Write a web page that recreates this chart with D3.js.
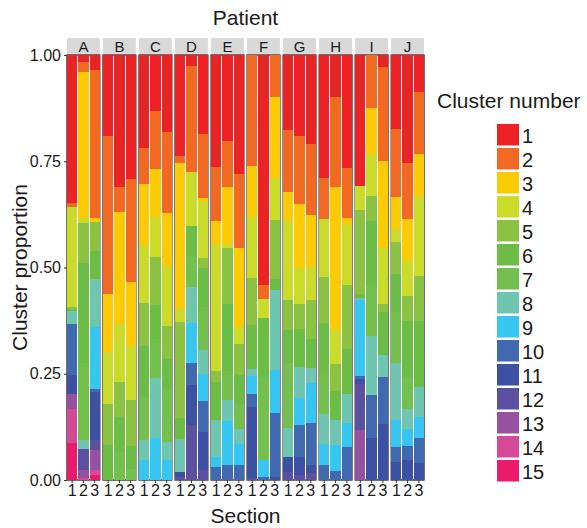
<!DOCTYPE html>
<html><head><meta charset="utf-8">
<script src="https://cdn.jsdelivr.net/npm/d3@7"></script>
<style>body{margin:0;background:#fff}svg{display:block;font-family:"Liberation Sans",Arial,Helvetica,sans-serif}</style>
</head><body><svg id="chart" width="587" height="528"></svg>
<script>
const patients = ["A","B","C","D","E","F","G","H","I","J"];
const sections = ["1","2","3"];
const clusters = ["1","2","3","4","5","6","7","8","9","10","11","12","13","14","15"];
const clusterColors = ["#ed2224","#f26a22","#fdcb06","#cbdb2a","#8bc242","#6cbd45","#74c04f","#6fc6b0","#37c5f1","#4169b0","#3c51a3","#5b51a0","#9652a0","#d54a98","#ec1a6b"];
const yTicks = [0, 0.25, 0.5, 0.75, 1];

// proportions per section, clusters 1..15
const patientA = [
  [0.349,0.008,0,0.236,0.004,0.004,0,0.031,0,0.121,0.043,0,0.035,0.082,0.086],
  [0.016,0.023,0.344,0.012,0.094,0.245,0.172,0.020,0,0,0,0.051,0.018,0.005,0],
  [0.036,0.347,0.010,0,0.067,0.067,0,0.113,0.145,0.008,0.113,0.023,0.047,0.012,0.012]
];
const patientB = [
  [0.190,0.372,0.137,0.121,0.098,0.082,0,0,0,0,0,0,0,0,0],
  [0.311,0.059,0.262,0.137,0.082,0.082,0.067,0,0,0,0,0,0,0,0],
  [0.292,0.243,0.151,0.127,0.108,0.055,0.025,0,0,0,0,0,0,0,0]
];
const patientC = [
  [0.218,0.085,0.145,0.135,0.102,0.120,0.102,0.047,0.047,0,0,0,0,0,0],
  [0.131,0.137,0.113,0.094,0.113,0.090,0.082,0.141,0.098,0,0,0,0,0,0],
  [0.182,0.190,0.123,0.143,0.076,0.070,0.125,0.043,0.047,0,0,0,0,0,0]
];
const patientD = [
  [0.237,0.016,0.344,0.031,0.227,0.049,0,0.076,0,0,0.012,0.008,0,0,0],
  [0.026,0.250,0,0.125,0,0.074,0.070,0.086,0.094,0.051,0.094,0.129,0,0,0],
  [0.185,0.152,0.009,0.131,0.025,0.100,0.092,0.056,0.063,0.074,0.090,0.023,0,0,0]
];
const patientE = [
  [0.263,0.127,0.055,0.297,0.027,0.090,0,0.086,0.023,0.031,0,0,0,0,0],
  [0.202,0.108,0.135,0.009,0.131,0.168,0.059,0.049,0.104,0.035,0,0,0,0,0],
  [0.282,0.174,0.185,0.041,0.074,0.067,0.059,0.035,0.051,0.035,0,0,0,0,0]
];
const patientF = [
  [0,0.261,0.120,0.144,0.112,0.102,0,0.016,0.043,0.031,0.168,0.004,0,0,0],
  [0.542,0.031,0,0.045,0,0.139,0.197,0,0.038,0.008,0,0,0,0,0],
  [0,0.100,0.189,0.099,0.139,0.027,0,0.188,0.102,0.149,0.008,0,0,0,0]
];
const patientG = [
  [0.177,0.146,0.067,0.188,0.070,0.078,0.153,0.067,0,0,0.035,0.020,0,0,0],
  [0.190,0.162,0.149,0.085,0.059,0.090,0,0.074,0.063,0.074,0.043,0.012,0,0,0],
  [0.210,0.168,0.121,0.077,0.092,0.070,0,0.035,0.094,0.098,0.020,0.016,0,0,0]
];
const patientH = [
  [0.288,0.098,0,0.137,0.106,0.121,0.095,0.070,0.049,0.035,0,0,0,0,0],
  [0.099,0.211,0.336,0.081,0.063,0.069,0,0.059,0.060,0.022,0,0,0,0,0],
  [0.266,0.117,0.016,0.141,0.151,0.107,0,0.069,0.056,0.077,0,0,0,0,0]
];
const patientI = [
  [0.308,0,0,0.056,0.200,0.008,0,0.005,0.178,0.008,0.013,0.108,0.117,0,0],
  [0,0.124,0.110,0.098,0.059,0.153,0.120,0.139,0,0.102,0.098,0,0,0,0],
  [0.028,0.221,0.205,0.133,0.018,0.102,0,0.051,0,0.110,0.133,0,0,0,0]
];
const patientJ = [
  [0.174,0.159,0.076,0.031,0.074,0.090,0.121,0.133,0.063,0.035,0.043,0,0,0,0],
  [0.255,0.131,0.098,0.082,0.059,0.133,0.074,0.047,0.041,0.033,0.047,0,0,0,0],
  [0.088,0.145,0.102,0.184,0.106,0.156,0,0.070,0.051,0.059,0.039,0,0,0,0]
];
const patientValues = [patientA,patientB,patientC,patientD,patientE,patientF,patientG,patientH,patientI,patientJ];

const svg = d3.select("#chart");
const plotTop = 55, plotBottom = 480, plotLeft = 67, plotRight = 424;
const textColor = "#1a1a1a";

const fx = d3.scaleBand().domain(patients).range([plotLeft, plotRight]).paddingInner(0.09).paddingOuter(0);
const xs = d3.scaleBand().domain(sections).range([0, fx.bandwidth()]).paddingInner(0.09).paddingOuter(0.0);
const y = d3.scaleLinear().domain([0, 1]).range([plotBottom, plotTop]);
const color = d3.scaleOrdinal().domain(clusters).range(clusterColors);

const rows = [];
patients.forEach((p, pi) => {
  sections.forEach((s, si) => {
    const row = {patient: p, section: s};
    clusters.forEach((c, ci) => row[c] = patientValues[pi][si][ci]);
    rows.push(row);
  });
});
const stack = d3.stack().keys(clusters.slice().reverse()).offset(d3.stackOffsetExpand);
const series = stack(rows);

svg.append("text").attr("x", (plotLeft + plotRight) / 2).attr("y", 25).attr("text-anchor", "middle")
  .attr("font-size", 21).attr("fill", textColor).text("Patient");

const panels = svg.selectAll("g.panel").data(patients).join("g").attr("class", "panel")
  .attr("transform", d => `translate(${fx(d)},0)`);

panels.append("rect").attr("x", 0).attr("y", 38).attr("width", fx.bandwidth()).attr("height", 16).attr("fill", "#d9d9d9");
panels.append("text").attr("x", fx.bandwidth() / 2).attr("y", 51.5).attr("text-anchor", "middle")
  .attr("font-size", 15).attr("fill", textColor).text(d => d);

const segs = [];
series.forEach(ser => {
  ser.forEach(d => {
    if (d[1] - d[0] > 0) segs.push({key: ser.key, y0: d[0], y1: d[1], patient: d.data.patient, section: d.data.section});
  });
});
svg.append("g").selectAll("rect").data(segs).join("rect")
  .attr("x", d => fx(d.patient) + xs(d.section))
  .attr("width", xs.bandwidth())
  .attr("y", d => y(d.y1))
  .attr("height", d => y(d.y0) - y(d.y1))
  .attr("fill", d => color(d.key))
  .attr("shape-rendering", "crispEdges");

panels.append("rect").attr("x", 0).attr("y", plotTop).attr("width", fx.bandwidth()).attr("height", plotBottom - plotTop)
  .attr("fill", "none").attr("stroke", "#111").attr("stroke-width", 1.2);

panels.each(function() {
  const g = d3.select(this).append("g").attr("transform", `translate(0,${plotBottom})`);
  g.call(d3.axisBottom(xs).tickSize(3).tickPadding(2));
  g.select(".domain").remove();
  g.selectAll(".tick line").attr("stroke", "#333");
  g.selectAll(".tick text").attr("font-size", 16).attr("fill", textColor).attr("font-family", null);
});

const gy = svg.append("g").attr("transform", `translate(${plotLeft},0)`);
gy.call(d3.axisLeft(y).tickValues(yTicks).tickFormat(d3.format(".2f")).tickSize(3).tickPadding(3));
gy.select(".domain").remove();
gy.selectAll(".tick line").attr("stroke", "#333");
gy.selectAll(".tick text").attr("font-size", 16).attr("fill", textColor).attr("font-family", null);

svg.append("text").attr("x", (plotLeft + plotRight) / 2).attr("y", 523).attr("text-anchor", "middle")
  .attr("font-size", 21).attr("fill", textColor).text("Section");
svg.append("text").attr("transform", `translate(27,${(plotTop + plotBottom) / 2}) rotate(-90)`).attr("text-anchor", "middle")
  .attr("font-size", 21).attr("fill", textColor).text("Cluster proportion");

const lg = svg.append("g");
lg.append("text").attr("x", 437).attr("y", 108).attr("font-size", 21).attr("fill", textColor).text("Cluster number");
const items = lg.selectAll("g.item").data(clusters).join("g").attr("class", "item")
  .attr("transform", (d, i) => `translate(497,${124 + i * 24})`);
items.append("rect").attr("width", 22).attr("height", 21.5).attr("fill", d => color(d));
items.append("text").attr("x", 25).attr("y", 18.5).attr("font-size", 20).attr("fill", textColor).text(d => d);
</script></body></html>
